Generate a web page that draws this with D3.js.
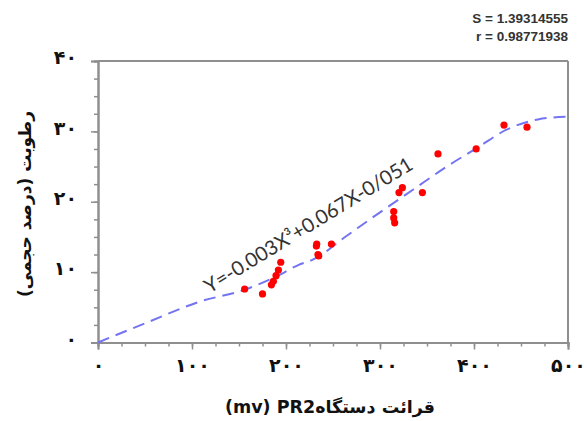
<!DOCTYPE html>
<html>
<head>
<meta charset="utf-8">
<script src="https://cdn.jsdelivr.net/npm/d3@7"></script>
<style>
  html, body { margin: 0; padding: 0; background: #fff; }
  svg { display: block; }
</style>
</head>
<body>
<svg id="chart" width="587" height="421"></svg>
<script>
// ---- data ----
const pointX = [156, 175, 184.5, 186.6, 189.4, 191.9, 194.4, 232.3, 232.7, 234.0, 234.8, 248.3, 314.6, 314.6, 315.6, 320.2, 323.8, 345.1, 361.7, 402.3, 431.9, 456.4];
const pointY = [7.6, 6.9, 8.2, 8.7, 9.5, 10.3, 11.4, 13.7, 14.0, 12.5, 12.3, 14.0, 18.6, 17.7, 17.0, 21.3, 22.0, 21.3, 26.8, 27.5, 30.9, 30.6];

const curveX = [0, 55, 108, 156, 190, 213, 229, 264, 300, 335, 371, 404, 434, 468, 500];
const curveY = [0, 3.0, 5.8, 7.5, 9.4, 11.0, 11.8, 15.1, 18.5, 21.7, 25.0, 27.7, 30.2, 31.7, 32.1];

const xTickValues = [0, 100, 200, 300, 400, 500];
const xTickLabels = ["۰", "۱۰۰", "۲۰۰", "۳۰۰", "۴۰۰", "۵۰۰"];
const yTickValues = [0, 10, 20, 30, 40];
const yTickLabels = ["۰", "۱۰", "۲۰", "۳۰", "۴۰"];

const xLabel = "(mv) PR2" + "قرائت دستگاه";
const yLabel = "رطوبت (درصد حجمی)";
const equationText = "Y=-0.003X³+0.067X-0/051";
const statLines = ["S = 1.39314555", "r = 0.98771938"];

// ---- layout ----
const L = 98, R = 568, T = 61, B = 342.5;
const svg = d3.select("#chart");
const x = d3.scaleLinear().domain([0, 500]).range([L, R]);
const y = d3.scaleLinear().domain([0, 40]).range([B, T]);
const axisColor = "#8f8f8f";

// frame (top and right)
svg.append("line").attr("x1", L).attr("x2", R).attr("y1", T).attr("y2", T)
  .attr("stroke", axisColor).attr("stroke-width", 2);
svg.append("line").attr("x1", R).attr("x2", R).attr("y1", T).attr("y2", B)
  .attr("stroke", axisColor).attr("stroke-width", 2);

// minor ticks via axes
const xMinor = d3.axisBottom(x).tickValues(d3.range(0, 501, 25)).tickSize(4).tickFormat("");
const gxm = svg.append("g").attr("transform", `translate(0,${B})`).call(xMinor);
const yMinor = d3.axisLeft(y).tickValues(d3.range(0, 40.1, 2.5)).tickSize(4).tickFormat("");
const gym = svg.append("g").attr("transform", `translate(${L},0)`).call(yMinor);

// major axes
const xAxis = d3.axisBottom(x).tickValues(xTickValues).tickSize(7).tickPadding(15)
  .tickFormat((d, i) => xTickLabels[i]);
const gx = svg.append("g").attr("transform", `translate(0,${B})`).call(xAxis);
const yAxis = d3.axisLeft(y).tickValues(yTickValues).tickSize(7).tickPadding(14)
  .tickFormat((d, i) => yTickLabels[i]);
const gy = svg.append("g").attr("transform", `translate(${L},0)`).call(yAxis);

[gxm, gym, gx, gy].forEach(g => {
  g.select(".domain").attr("stroke", axisColor).attr("stroke-width", 2);
  g.selectAll(".tick line").attr("stroke", axisColor).attr("stroke-width", 1.5);
});
gx.selectAll(".tick text").attr("font-family", "DejaVu Sans, sans-serif")
  .attr("font-size", 19).attr("font-weight", "bold").attr("fill", "#111")
  .attr("dy", "0.4em");
gy.selectAll(".tick text").attr("font-family", "DejaVu Sans, sans-serif")
  .attr("font-size", 19).attr("font-weight", "bold").attr("fill", "#111")
  .attr("dy", "0.15em");

// fitted curve
const line = d3.line().x((d, i) => x(curveX[i])).y((d, i) => y(curveY[i])).curve(d3.curveMonotoneX);
svg.append("path").datum(curveX).attr("d", line)
  .attr("fill", "none").attr("stroke", "#7474f2").attr("stroke-width", 2)
  .attr("stroke-dasharray", "12,7");

// points
svg.append("g").selectAll("circle").data(pointX).join("circle")
  .attr("cx", (d) => x(d)).attr("cy", (d, i) => y(pointY[i])).attr("r", 3.6)
  .attr("fill", "#ff0000");

// equation label
svg.append("text")
  .attr("transform", "translate(312,231) rotate(-31.5)")
  .attr("text-anchor", "middle")
  .attr("font-family", "Lato, 'Open Sans', sans-serif")
  .attr("font-size", 20).attr("fill", "#333")
  .text(equationText);

// stats text
svg.selectAll("text.stat").data(statLines).join("text").attr("class", "stat")
  .attr("x", 568).attr("y", (d, i) => 23 + i * 17.5)
  .attr("text-anchor", "end")
  .attr("font-family", "Liberation Sans, Arial, sans-serif")
  .attr("font-size", 13.5).attr("font-weight", "bold").attr("fill", "#333")
  .text(d => d);

// axis titles
svg.append("text")
  .attr("x", (L + R) / 2 - 3).attr("y", 413)
  .attr("text-anchor", "middle")
  .attr("font-family", "DejaVu Sans, sans-serif")
  .attr("font-size", 17.5).attr("font-weight", "bold").attr("fill", "#111")
  .text(xLabel);

svg.append("text")
  .attr("transform", "translate(31,204) rotate(-90)")
  .attr("text-anchor", "middle")
  .attr("direction", "rtl")
  .attr("font-family", "DejaVu Sans, sans-serif")
  .attr("font-size", 17).attr("font-weight", "bold").attr("fill", "#111")
  .text(yLabel);
</script>
</body>
</html>
